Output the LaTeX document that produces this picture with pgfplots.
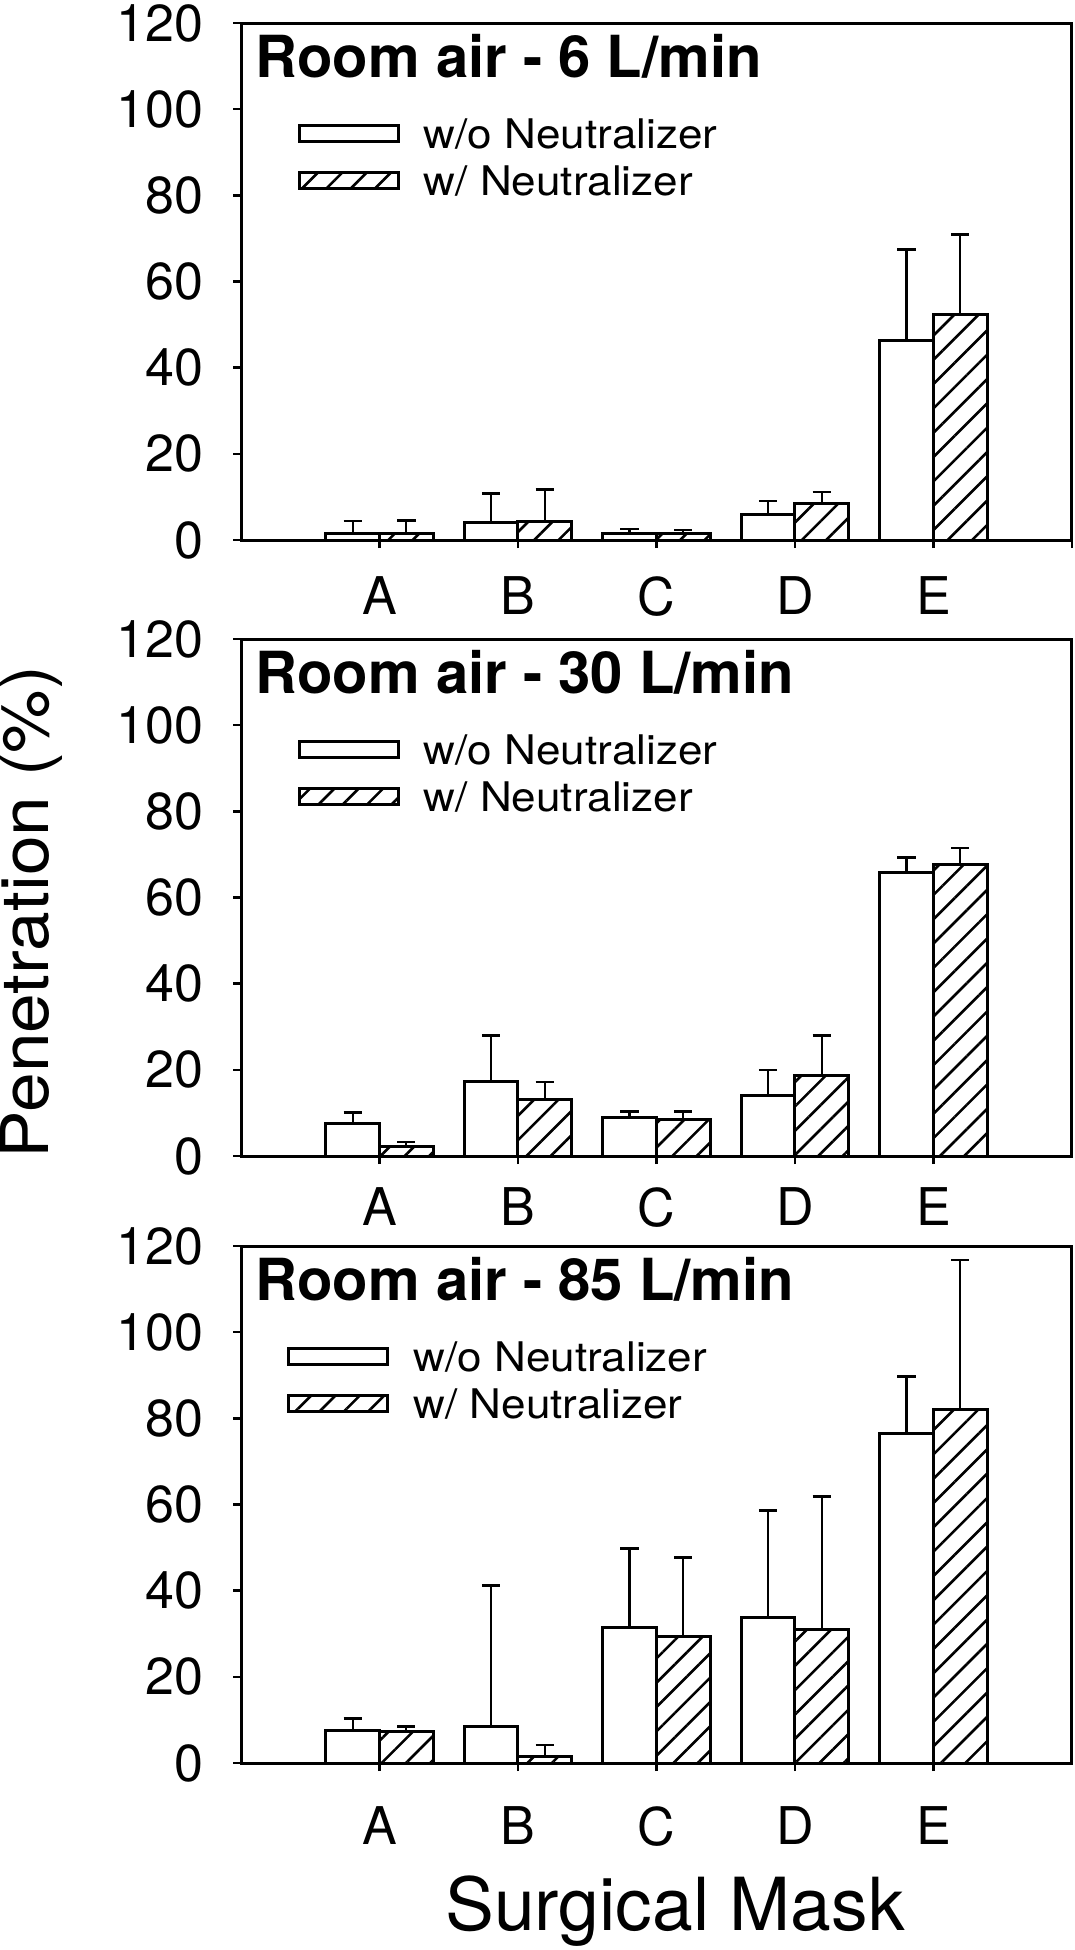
\documentclass[border=0pt]{standalone}
\usepackage{fontspec}
\setmainfont{TeX Gyre Heros}
\newfontfamily\legfont{TeX Gyre Heros}[FakeStretch=1.08]
\newfontfamily\ylabfont{TeX Gyre Heros}[FakeStretch=1.08]
\usepackage{pgfplots}
\pgfplotsset{compat=1.18}
\usetikzlibrary{patterns.meta}

\pgfplotsset{
  panel/.style={
    scale only axis, width=207.75pt, height=129.25pt,
    xmin=0, xmax=6, ymin=0, ymax=120,
    xtick={1,...,5}, xticklabels={A,B,C,D,E},
    ytick={0,20,...,120},
    tick align=outside, xtick pos=bottom, ytick pos=left,
    major tick length=2pt,
    axis line style={line width=0.75pt},
    every tick/.style={black, line width=0.6pt},
    /pgf/number format/assume math mode=true,
    yticklabel style={font=\fontsize{13}{15}\selectfont, inner sep=0pt, xshift=-7.25pt},
    xticklabel style={font=\fontsize{13}{15}\selectfont, inner sep=0pt, anchor=north},
    legend style={at={(rel axis cs:0.0674,0.816)}, anchor=north west, draw=none, fill=none,
      inner sep=0pt, row sep=2.8pt, font=\legfont\fontsize{10.2}{12}\selectfont,
      nodes={inner sep=0pt},
      /tikz/every odd column/.append style={column sep=6pt}},
    legend cell align=left,
    legend image code/.code={\draw[##1] (0pt,-1.2pt) rectangle (24.75pt,2.8pt);},
  },
  % bars sit left (w/o) and right (w/) of each category tick; x values are bar centres
  woN/.style={ybar, bar width=0.387, bar shift=0pt, draw=black, fill=white, line width=0.75pt,
    error bars/.cd, y dir=plus, y explicit,
    error bar style={black, line width=0.6pt},
    error mark options={black, rotate=90, mark size=2.3pt, line width=0.6pt}},
  wN/.style={ybar, bar width=0.387, bar shift=0pt, draw=black, line width=0.75pt,
    pattern={Lines[angle=45, distance=4.3pt, line width=0.65pt]},
    error bars/.cd, y dir=plus, y explicit,
    error bar style={black, line width=0.6pt},
    error mark options={black, rotate=90, mark size=2.3pt, line width=0.6pt}},
}
\newcommand\paneltitle[1]{\node[anchor=base west, inner sep=0pt, font=\fontsize{14.5}{17}\bfseries\selectfont]
  at (rel axis cs:0.017,0.895) {#1};}

\begin{document}
\begin{tikzpicture}
\path[use as bounding box] (0,0) rectangle (268.5pt,-487.5pt);

% 6 L/min
\begin{axis}[panel, at={(60.25pt,-135pt)}, anchor=south west,
  xticklabel style={yshift=-7pt}, extra x ticks={6}, extra x tick labels={}]
\addplot[woN] coordinates {(0.8065,1.5) +- (0,2.9) (1.8065,4.0) +- (0,6.8) (2.8065,1.5) +- (0,1.0) (3.8065,5.9) +- (0,3.2) (4.8065,46.3) +- (0,21.1)};
\addplot[wN] coordinates {(1.1935,1.5) +- (0,3.0) (2.1935,4.2) +- (0,7.5) (3.1935,1.6) +- (0,0.7) (4.1935,8.4) +- (0,2.7) (5.1935,52.3) +- (0,18.6)};
\legend{w/o Neutralizer, w/ Neutralizer}
\paneltitle{Room air - 6 L/min}
\end{axis}

% 30 L/min
\begin{axis}[panel, at={(60.25pt,-289pt)}, anchor=south west,
  xticklabel style={yshift=-5.75pt}]
\addplot[woN] coordinates {(0.8065,7.5) +- (0,2.6) (1.8065,17.4) +- (0,10.6) (2.8065,9.0) +- (0,1.3) (3.8065,14.0) +- (0,6.0) (4.8065,65.7) +- (0,3.6)};
\addplot[wN] coordinates {(1.1935,2.3) +- (0,1.0) (2.1935,13.1) +- (0,4.1) (3.1935,8.5) +- (0,1.8) (4.1935,18.7) +- (0,9.3) (5.1935,67.6) +- (0,3.9)};
\legend{w/o Neutralizer, w/ Neutralizer}
\paneltitle{Room air - 30 L/min}
\end{axis}

% 85 L/min
\begin{axis}[panel, at={(60.25pt,-440.75pt)}, anchor=south west,
  xticklabel style={yshift=-8.75pt},
  legend style={at={(rel axis cs:0.055,0.816)}}]
\addplot[woN] coordinates {(0.8065,7.5) +- (0,2.8) (1.8065,8.4) +- (0,32.8) (2.8065,31.5) +- (0,18.3) (3.8065,33.8) +- (0,24.8) (4.8065,76.4) +- (0,13.3)};
\addplot[wN] coordinates {(1.1935,7.4) +- (0,1.1) (2.1935,1.4) +- (0,2.8) (3.1935,29.3) +- (0,18.4) (4.1935,31.0) +- (0,30.9) (5.1935,82.1) +- (0,34.7)};
\legend{w/o Neutralizer, w/ Neutralizer}
\paneltitle{Room air - 85 L/min}
\end{axis}

\node[rotate=90, font=\ylabfont\fontsize{16.5}{19}\selectfont] at (7.75pt,-228pt) {Penetration (\%)};
\node[anchor=base, font=\fontsize{18.3}{21}\selectfont] at (168.75pt,-482.5pt) {Surgical Mask};
\end{tikzpicture}
\end{document}
